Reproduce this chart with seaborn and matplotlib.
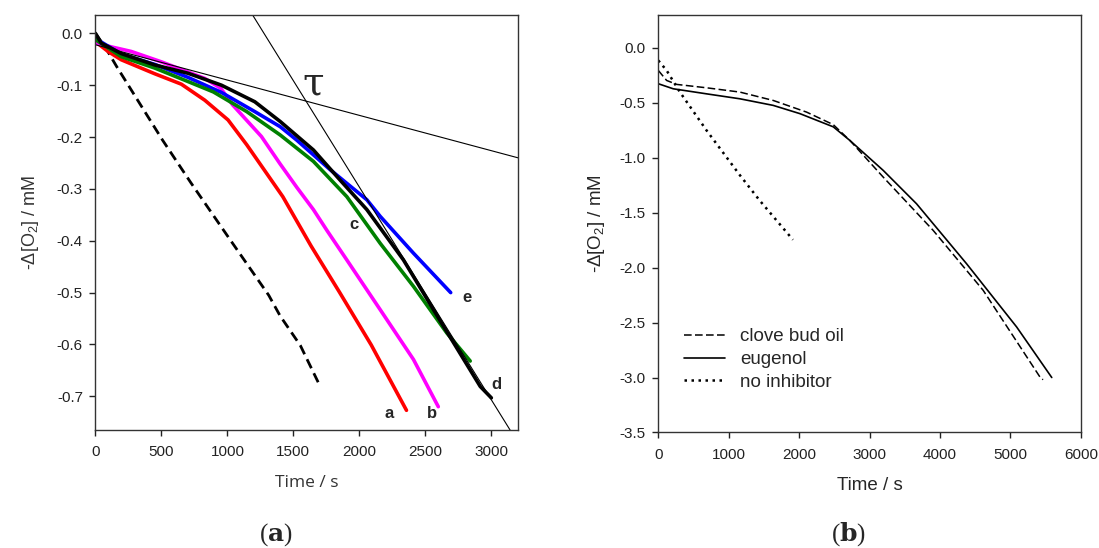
import pandas as pd
import matplotlib.pyplot as plt
import seaborn as sns

# ---- panel (a): O2 consumption curves ----
t_dash = [0, 80, 161, 509, 723, 1018, 1313, 1400, 1553, 1690]
o_dash = [0.0, -0.029, -0.064, -0.206, -0.288, -0.397, -0.505, -0.545, -0.602, -0.674]

t_a = [0, 96, 196, 450, 651, 829, 1005, 1147, 1420, 1634, 1849, 2090, 2357]
o_a = [-0.016, -0.035, -0.051, -0.078, -0.098, -0.129, -0.167, -0.215, -0.315, -0.41,
       -0.499, -0.601, -0.727]

t_b = [0, 272, 500, 829, 950, 1040, 1258, 1400, 1526, 1652, 1754, 1905, 2158, 2410, 2598]
o_b = [-0.019, -0.035, -0.055, -0.087, -0.106, -0.138, -0.199, -0.252, -0.297, -0.34,
       -0.38, -0.437, -0.533, -0.629, -0.72]

t_c = [0, 196, 450, 702, 894, 1147, 1400, 1652, 1905, 2158, 2410, 2663, 2840]
o_c = [-0.012, -0.045, -0.067, -0.093, -0.113, -0.151, -0.196, -0.247, -0.315, -0.405,
       -0.488, -0.578, -0.632]

t_d = [0, 45, 196, 450, 702, 955, 1208, 1400, 1652, 1854, 2057, 2334, 2638, 2916, 3000]
o_d = [0.0, -0.019, -0.039, -0.061, -0.077, -0.1, -0.132, -0.17, -0.225, -0.283, -0.34,
       -0.437, -0.565, -0.681, -0.703]

t_e = [0, 196, 450, 702, 955, 1208, 1400, 1526, 1779, 2057, 2158, 2410, 2692]
o_e = [-0.01, -0.04, -0.06, -0.085, -0.114, -0.151, -0.18, -0.206, -0.263, -0.321, -0.353,
       -0.424, -0.5]

# tangents whose crossing gives tau
tan1_t = [0, 3201]
tan1_o = [-0.022, -0.24]
tan2_t = [1192, 3142]
tan2_o = [0.035, -0.765]

curve_labels = ['a', 'b', 'c', 'd', 'e']
label_t = [2223, 2550, 1956, 3040, 2813]
label_o = [-0.734, -0.734, -0.368, -0.677, -0.51]

# ---- panel (b) ----
t_clove = [0, 118, 260, 686, 1159, 1632, 2106, 2485, 2721, 3194, 3904, 4614, 5420, 5464]
o_clove = [-0.207, -0.298, -0.334, -0.365, -0.404, -0.48, -0.586, -0.70, -0.844, -1.177,
           -1.662, -2.207, -2.995, -3.02]

t_eug = [0, 212, 686, 1159, 1632, 2011, 2485, 2721, 3194, 3668, 4378, 5089, 5588]
o_eug = [-0.328, -0.374, -0.42, -0.465, -0.525, -0.60, -0.72, -0.844, -1.116, -1.42,
         -1.965, -2.54, -3.0]

t_none = [0, 118, 307, 686, 1159, 1440, 1912]
o_none = [-0.116, -0.207, -0.404, -0.753, -1.16, -1.39, -1.747]

sns.set_style("ticks")
plt.rcParams['font.family'] = ['Liberation Sans', 'DejaVu Sans']
plt.rcParams['mathtext.default'] = 'regular'

fig = plt.figure(figsize=(10.99, 5.48), dpi=100)
ax1 = fig.add_axes([0.0868, 0.2153, 0.3843, 0.757])
ax2 = fig.add_axes([0.599, 0.2108, 0.3844, 0.7624])


def df(t, o):
    return pd.DataFrame({'t': t, 'o': o})


# panel (a)
sns.lineplot(data=df(t_dash, o_dash), x='t', y='o', ax=ax1, color='black', lw=2.0,
             linestyle=(0, (3.6, 2)))
sns.lineplot(data=df(t_a, o_a), x='t', y='o', ax=ax1, color='#ff0000', lw=2.6)
sns.lineplot(data=df(t_b, o_b), x='t', y='o', ax=ax1, color='#ff00ff', lw=2.6)
sns.lineplot(data=df(t_e, o_e), x='t', y='o', ax=ax1, color='#0000ff', lw=2.6)
sns.lineplot(data=df(t_c, o_c), x='t', y='o', ax=ax1, color='#008000', lw=2.6)
sns.lineplot(data=df(t_d, o_d), x='t', y='o', ax=ax1, color='black', lw=2.6)
sns.lineplot(data=df(tan1_t, tan1_o), x='t', y='o', ax=ax1, color='black', lw=0.8)
sns.lineplot(data=df(tan2_t, tan2_o), x='t', y='o', ax=ax1, color='black', lw=0.8)

ax1.set_xlim(0, 3200)
ax1.set_ylim(-0.765, 0.035)
ax1.set_xticks([0, 500, 1000, 1500, 2000, 2500, 3000])
ax1.set_yticks([0.0, -0.1, -0.2, -0.3, -0.4, -0.5, -0.6, -0.7])
ax1.set_yticklabels(['0.0', '-0.1', '-0.2', '-0.3', '-0.4', '-0.5', '-0.6', '-0.7'])
ax1.set_xlabel('Time / s', family='Open Sans', fontsize=12.5, color='#333333', labelpad=11)
ax1.set_ylabel('-Δ[O$_2$] / mM', fontsize=13, color='#333333', labelpad=11)

for lab, x, y in zip(curve_labels, label_t, label_o):
    ax1.text(x, y, lab, fontsize=12, fontweight='bold', ha='center', va='center')
ax1.text(1652, -0.097, 'τ', fontsize=28, family='DejaVu Serif', ha='center', va='center')

# panel (b)
sns.lineplot(data=df(t_clove, o_clove), x='t', y='o', ax=ax2, color='black', lw=1.1,
             linestyle=(0, (5, 2.2)), label='clove bud oil')
sns.lineplot(data=df(t_eug, o_eug), x='t', y='o', ax=ax2, color='black', lw=1.2,
             label='eugenol')
sns.lineplot(data=df(t_none, o_none), x='t', y='o', ax=ax2, color='black', lw=1.8,
             linestyle=(0, (1, 1.8)), label='no inhibitor')
ax2.set_xlim(0, 6000)
ax2.set_ylim(-3.5, 0.3)
ax2.set_xticks([0, 1000, 2000, 3000, 4000, 5000, 6000])
ax2.set_yticks([0.0, -0.5, -1.0, -1.5, -2.0, -2.5, -3.0, -3.5])
ax2.set_yticklabels(['0.0', '-0.5', '-1.0', '-1.5', '-2.0', '-2.5', '-3.0', '-3.5'])
ax2.set_xlabel('Time / s', fontsize=13.5, labelpad=11)
ax2.set_ylabel('-Δ[O$_2$] / mM', fontsize=13.5, labelpad=9)
ax2.legend(loc='upper left', bbox_to_anchor=(0.022, 0.29), frameon=False, fontsize=13.5,
           handlelength=2.15, handletextpad=0.8, labelspacing=0.3)

for ax in (ax1, ax2):
    for sp in ax.spines.values():
        sp.set_visible(True)
        sp.set_color('#333333')
        sp.set_linewidth(1.0)
    ax.tick_params(direction='out', length=4, width=1, labelsize=11, colors='#222222')
    ax.tick_params(axis='x', pad=7)
    ax.tick_params(axis='y', pad=5)

fig.text(0.2514, 0.025, '($\\mathbf{a}$)', fontsize=18, family='Liberation Serif',
         math_fontfamily='dejavuserif', ha='center', va='center')
fig.text(0.7725, 0.025, '($\\mathbf{b}$)', fontsize=18, family='Liberation Serif',
         math_fontfamily='dejavuserif', ha='center', va='center')

fig.savefig('out.png', dpi=100, facecolor='white')
